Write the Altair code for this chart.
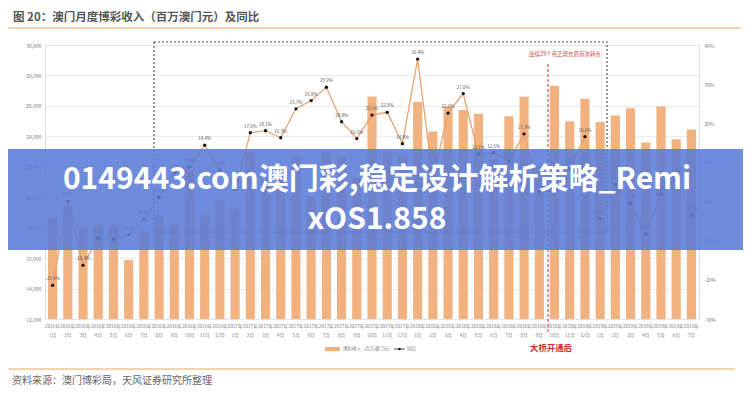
import altair as alt
import pandas as pd

FONT = "Noto Sans CJK SC"

years = [2016] * 12 + [2017] * 12 + [2018] * 12 + [2019] * 7
month_nums = list(range(1, 13)) * 3 + list(range(1, 8))
months = [f"{y}年|{m}月" for y, m in zip(years, month_nums)]

revenue = [18674, 19521, 17981, 18248, 18181, 15881, 17756, 18817, 18260, 21781, 18799, 19815,
           19255, 22970, 21170, 21223, 22765, 19990, 22940, 22676, 21300, 26625, 23050, 22801,
           26260, 24324, 25951, 25732, 25489, 22490, 25327, 26600, 22117, 27328, 24999, 26465,
           24942, 25371, 25840, 23588, 25952, 23812, 24453]

yoy = [-21.4, 0.1, -16.3, -9.3, -9.6, -8.5, -4.5, 1.1, 7.4, 8.8, 14.4, 8.0,
       3.1, 17.6, 18.1, 16.3, 23.7, 25.8, 29.2, 20.4, 16.1, 22.1, 22.8, 14.8,
       36.4, 5.7, 22.6, 27.6, 12.1, 12.5, 10.3, 17.3, 2.5, 2.6, 8.5, 16.6,
       -4.4, 4.4, -0.4, -8.3, 1.8, 5.9, -3.5]

left_ticks = list(range(12000, 30001, 2000))
right_ticks = list(range(-30, 41, 10))

title_text = "图 20：澳门月度博彩收入（百万澳门元）及同比"
source_text = "资料来源：澳门博彩局，天风证券研究所整理"
bar_name = "博彩收入（百万澳门元）"
line_name = "同比"
red_top = "连续29个月正增长后首次转负"
red_bottom = "大桥开通后"
banner1 = "0149443.com澳门彩,稳定设计解析策略_Remi"
banner2 = "xOS1.858"

df = pd.DataFrame({"month": months, "revenue": revenue, "yoy": yoy})
df["yoy_label"] = [f"{v:.1f}%" for v in yoy]

BAR = "#f1b280"
LINE = "#e9a271"
GRAY = "#7a7a7a"

x_enc = alt.X("month:N", sort=months,
              scale=alt.Scale(paddingInner=0.4, paddingOuter=0.2),
              axis=alt.Axis(title=None, labelExpr="split(datum.label, '|')", labelAngle=0,
                            labelFontSize=4.7, labelColor=GRAY, ticks=False, domain=False,
                            labelPadding=4, labelLineHeight=9.5, labelFont=FONT))

base = alt.Chart(df)

bars = base.mark_bar(color=BAR).encode(
    x=x_enc,
    y=alt.Y("revenue:Q", scale=alt.Scale(domain=[12000, 30000], nice=False, zero=False),
            axis=alt.Axis(values=left_ticks, format=",.0f", title=None, labelFontSize=5,
                          labelColor=GRAY, ticks=False, domain=False, gridColor="#e6e6e6",
                          gridWidth=0.8, labelPadding=4, labelFont=FONT)),
    y2=alt.datum(12000),
)

yscale = alt.Scale(domain=[-30, 40], nice=False, zero=False)
yaxis = alt.Axis(orient="right", values=right_ticks, labelExpr="datum.value + '%'", title=None,
                 grid=False, labelFontSize=5, labelColor=GRAY, ticks=False, domain=False,
                 labelPadding=5, labelFont=FONT)

line = base.mark_line(color=LINE, strokeWidth=1.3).encode(
    x=x_enc, y=alt.Y("yoy:Q", scale=yscale, axis=yaxis))
points = base.mark_circle(color="#111111", size=11, opacity=1).encode(
    x=x_enc, y=alt.Y("yoy:Q", scale=yscale, axis=yaxis))
labels = base.mark_text(dy=-6, fontSize=4.5, color="#555555", font=FONT).encode(
    x=x_enc, y=alt.Y("yoy:Q", scale=yscale, axis=yaxis), text="yoy_label:N")

inner = alt.layer(line, points, labels)

one = alt.Data(values=[{"k": 1}])


def txt(t, x, y, size, color, weight="normal", align="center"):
    return alt.Chart(one).mark_text(text=t, fontSize=size, color=color, fontWeight=weight,
                                    align=align, baseline="middle", font=FONT).encode(
        x=alt.value(x), y=alt.value(y))


def hrule(x1, x2, y, color, w, dash=None):
    kw = dict(color=color, strokeWidth=w)
    if dash:
        kw["strokeDash"] = dash
    return alt.Chart(one).mark_rule(**kw).encode(x=alt.value(x1), x2=alt.value(x2), y=alt.value(y))


def vrule(x, y1, y2, color, w, dash=None):
    kw = dict(color=color, strokeWidth=w)
    if dash:
        kw["strokeDash"] = dash
    return alt.Chart(one).mark_rule(**kw).encode(x=alt.value(x), y=alt.value(y1), y2=alt.value(y2))


def rect(x1, x2, y1, y2, **kw):
    return alt.Chart(one).mark_rect(**kw).encode(
        x=alt.value(x1), x2=alt.value(x2), y=alt.value(y1), y2=alt.value(y2))


decor = [
    txt(title_text, -32, -27, 11.5, "#555555", "bold", "left"),
    hrule(-38, 696, -17, "#f6d2b0", 2),
    hrule(-38, 690, 324, "#f6d2b0", 2),
    txt(source_text, -33, 336, 10, "#666666", "normal", "left"),
    rect(109, 562, -3, 187, fillOpacity=0, stroke="#555555", strokeWidth=1.2, strokeDash=[2, 2]),
    vrule(503, 19, 288, "#d9534f", 1.2, [3, 2]),
    txt(red_top, 520, 9, 5.5, "#d04848"),
    txt(red_bottom, 506, 303, 8.4, "#c9302c", "bold"),
    rect(280, 295, 302, 306, fill=BAR),
    txt(bar_name, 298, 304, 4.5, GRAY, "normal", "left"),
    hrule(349, 360, 304, "#222222", 0.8),
    alt.Chart(one).mark_point(filled=True, color="#111111", size=6, opacity=1).encode(
        x=alt.value(354.5), y=alt.value(304)),
    txt(line_name, 362, 304, 4.5, GRAY, "normal", "left"),
    rect(-37, 698, 104, 205, fill="#5b7bd6", opacity=0.88),
    txt(banner1, 332, 135, 30, "#ffffff", "bold"),
    txt(banner2, 332, 175, 30, "#ffffff", "bold"),
]

chart = alt.layer(bars, inner, *decor).resolve_scale(y="independent").properties(
    width=654, height=274,
    autosize=alt.AutoSizeParams(type="none"),
    padding={"left": 37, "top": 37, "right": 44, "bottom": 73},
    background="white",
).configure_view(stroke=None).configure(font=FONT)

chart.save("out.html", embed_options={"renderer": "svg", "actions": False})
